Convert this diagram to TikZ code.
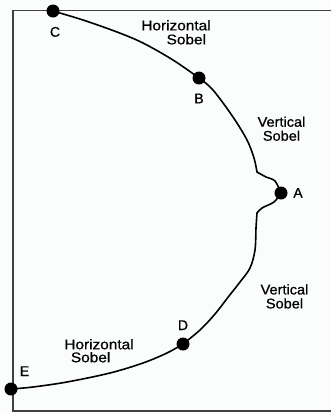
\documentclass[tikz,border=0pt]{standalone}
\usepackage{fontspec}
\setmainfont{Liberation Sans}
\newfontfamily\lblfont[FakeBold=0.7]{Liberation Sans}
\definecolor{bgcol}{RGB}{250,253,252}
\begin{document}
\begin{tikzpicture}[x=1pt,y=-1pt,
  dot/.style={circle,fill=black,inner sep=0pt,minimum size=13pt},
  curve/.style={line width=1.6pt,line join=round,line cap=round},
  lbl/.style={inner sep=0pt,font=\lblfont\fontsize{14}{14}\selectfont},
  hlbl/.style={lbl,xscale=1.1,align=left},
  vlbl/.style={lbl,xscale=1.04,align=center},
  frame/.style={line width=1.5pt,draw=black!75}]
\fill[bgcol] (0,0) rectangle (331,413);
\useasboundingbox (0,0) rectangle (331,413);
\draw[frame] (331,10.5) -- (13,10.5) -- (13,411) -- (331,411);
% points
\node[dot] (C) at (53,11) {};
\node[dot] (B) at (199,78) {};
\node[dot] (A) at (281,193) {};
\node[dot] (D) at (183,344) {};
\node[dot] (E) at (11,389) {};
% curve
\draw[curve] plot[smooth,tension=0.55] coordinates {(C.center) (83,20) (117,32) (143,43) (173,60) (B.center)};
\draw[curve] plot[smooth,tension=0.55] coordinates {(B.center) (213,90) (233,117) (247,140) (254,158) (257,172)};
\draw[curve] plot[smooth,tension=0.55] coordinates {(257,172) (266,177) (275,181) (A.center)};
\draw[curve] plot[smooth,tension=0.55] coordinates {(A.center) (274,202) (262,208) (257,213)};
\draw[curve] plot[smooth,tension=0.55] coordinates {(257,213) (256,228) (255,250) (250,268) (240,282) (229,296) (215,314) (200,330) (D.center)};
\draw[curve] plot[smooth,tension=0.55] coordinates {(D.center) (167,353) (143,363) (110,373) (67,382) (33,387) (E.center)};
% letters
\node[lbl,anchor=base] (lC) at (55,36.7) {C};
\node[lbl,anchor=base] (lB) at (199,103.3) {B};
\node[lbl,anchor=base] (lA) at (298,197.7) {A};
\node[lbl,anchor=base] (lD) at (183,330) {D};
\node[lbl,anchor=base] (lE) at (24.5,376) {E};
% labels
\node[hlbl] (h1) at (176,32.3) {Horizontal\\\hspace*{23pt}Sobel};
\node[vlbl] (v1) at (281.5,128.7) {Vertical\\Sobel};
\node[vlbl] (v2) at (284.5,296.4) {Vertical\\Sobel};
\node[hlbl,font=\lblfont\fontsize{14}{13}\selectfont] (h2) at (99,350.7) {Horizontal\\\hspace*{6pt}Sobel};
\end{tikzpicture}
\end{document}
